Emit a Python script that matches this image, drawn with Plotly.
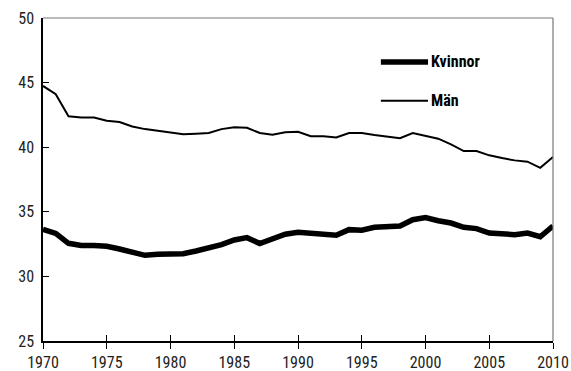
import plotly.graph_objects as go

# Years 1970-2010
years = list(range(1970, 2011))

# Women
kvinnor = [33.64, 33.33, 32.56, 32.40, 32.40, 32.33, 32.12, 31.84, 31.63, 31.71,
           31.71, 31.76, 31.97, 32.17, 32.46, 32.82, 33.00, 32.54, 32.95, 33.26,
           33.41, 33.33, 33.23, 33.18, 33.62, 33.57, 33.80, 33.82, 33.90, 34.39,
           34.55, 34.31, 34.13, 33.80, 33.70, 33.36, 33.28, 33.23, 33.36, 33.07,
           33.90]

# Men
man = [44.74, 44.10, 42.40, 42.30, 42.30, 42.05, 41.95, 41.60, 41.40, 41.25,
       41.10, 41.00, 41.05, 41.10, 41.40, 41.55, 41.50, 41.10, 40.97, 41.15,
       41.20, 40.85, 40.85, 40.76, 41.10, 41.10, 40.95, 40.85, 40.70, 41.10,
       40.90, 40.66, 40.22, 39.70, 39.70, 39.37, 39.16, 38.98, 38.88, 38.40,
       39.24]

x_ticks = [1970, 1975, 1980, 1985, 1990, 1995, 2000, 2005, 2010]
y_ticks = [25, 30, 35, 40, 45, 50]

FONT = "Liberation Sans Narrow, Roboto Condensed, Roboto, sans-serif"

fig = go.Figure()
fig.add_trace(go.Scatter(x=years, y=kvinnor, mode="lines", name="Kvinnor",
                         line=dict(color="black", width=5.5), showlegend=False))
fig.add_trace(go.Scatter(x=years, y=man, mode="lines", name="Män",
                         line=dict(color="black", width=2), showlegend=False))

fig.update_layout(
    width=571, height=371,
    margin=dict(l=43, r=18, t=18, b=30),
    paper_bgcolor="white", plot_bgcolor="white",
    font=dict(family=FONT, size=16, color="#222"),
    xaxis=dict(range=[1970, 2010], tickvals=x_ticks, ticks="outside", ticklen=6,
               tickcolor="black", showline=True, linecolor="black", linewidth=1.5,
               showgrid=False, zeroline=False, tickfont=dict(size=16),
               automargin=False, ticklabelstandoff=0),
    xaxis2=dict(range=[1970, 2010], tickvals=x_ticks, ticks="inside", ticklen=6,
                tickcolor="black", overlaying="x", anchor="y", side="bottom",
                showticklabels=False, showline=False, showgrid=False, zeroline=False),
    yaxis=dict(range=[25, 50], tickvals=y_ticks, ticks="inside", ticklen=6,
               tickcolor="black", showline=True, linecolor="black", linewidth=1.5,
               showgrid=False, zeroline=False, tickfont=dict(size=16),
               ticklabelstandoff=4, automargin=False),
)

# Invisible trace to activate the secondary x axis for the crossing ticks
fig.add_trace(go.Scatter(x=[1970], y=[25], xaxis="x2", mode="markers",
                         marker=dict(opacity=0), showlegend=False, hoverinfo="skip"))

# Grey frame on top and right
fig.add_shape(type="line", xref="paper", yref="paper", x0=0, x1=1, y0=1, y1=1,
              line=dict(color="#777", width=1.2))
fig.add_shape(type="line", xref="paper", yref="paper", x0=1, x1=1, y0=0, y1=1,
              line=dict(color="#777", width=1.2))

# Legend
legend_items = [("Kvinnor", 5.5, 46.6), ("Män", 2, 43.6)]
for label, w, yv in legend_items:
    fig.add_shape(type="line", xref="x", yref="y", x0=1996.5, x1=2000.2,
                  y0=yv, y1=yv, line=dict(color="black", width=w))
    fig.add_annotation(x=2000.3, y=yv, xref="x", yref="y", text="<b>%s</b>" % label,
                       showarrow=False, xanchor="left", yanchor="middle",
                       font=dict(family=FONT, size=16, color="black"))

fig.write_html("out.html")
